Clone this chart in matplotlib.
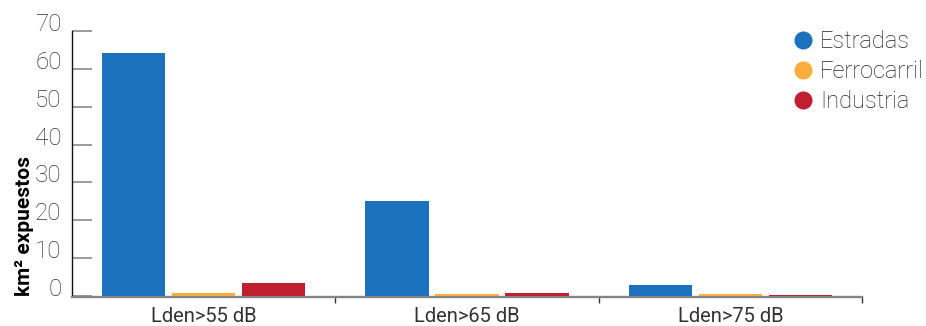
import matplotlib
matplotlib.use("Agg")
import matplotlib.pyplot as plt
from matplotlib.lines import Line2D
import numpy as np

categories = ["Lden>55 dB", "Lden>65 dB", "Lden>75 dB"]
series_names = ["Estradas", "Ferrocarril", "Industria"]
estradas = [64.1, 25.1, 3.0]
ferrocarril = [0.9, 0.4, 0.4]
industria = [3.4, 0.9, 0.35]
yticks = [0, 10, 20, 30, 40, 50, 60, 70]
colors = ["#1c72bd", "#f9ae3c", "#c01f30"]

plt.rcParams['font.family'] = ['Roboto', 'DejaVu Sans']

fig = plt.figure(figsize=(9.26, 3.26), dpi=100)
W, H = 926, 326
ax = fig.add_axes([72 / W, 30 / H, (862 - 72) / W, (296 - 31) / H])

x = np.arange(len(categories))
width = 0.24
offset = 0.266
for i, (vals, c) in enumerate(zip([estradas, ferrocarril, industria], colors)):
    ax.bar(x + (i - 1) * offset, vals, width=width, color=c, zorder=3)

ax.set_xlim(-0.5, 2.5)
ax.set_ylim(0, 70)
ax.set_yticks(yticks)
ax.set_yticklabels([str(t) for t in yticks])
for lab in ax.get_yticklabels():
    lab.set_verticalalignment('baseline')
    lab.set_fontweight('light')
ax.tick_params(axis='y', direction='in', length=14.4, width=1.2, color='#8a8a8a',
               pad=7.5, labelsize=17.5, labelcolor='#333333')

ax.set_xticks(x)
ax.set_xticklabels(categories)
ax.set_xticks([0.5, 1.5, 2.5], minor=True)
ax.tick_params(axis='x', which='major', length=0, pad=7, labelsize=14.5, labelcolor='#333333')
ax.tick_params(axis='x', which='minor', direction='out', length=4, width=1, color='#333333')
for lab in ax.get_xticklabels():
    lab.set_fontweight('light')

for s in ['top', 'right']:
    ax.spines[s].set_visible(False)
ax.spines['left'].set_color('#111111')
ax.spines['left'].set_linewidth(1.0)
ax.spines['bottom'].set_color('#858585')
ax.spines['bottom'].set_linewidth(1.7)
ax.spines['bottom'].set_position(('outward', 0.8))

fig.text(25 / W, 1 - 226 / H, "km² expuestos", rotation=90, ha='center', va='center',
         fontsize=15, fontweight='bold', color='black')

handles = [Line2D([0], [0], marker='o', linestyle='none', markersize=12,
                  markerfacecolor=c, markeredgecolor=c) for c in colors]
leg = ax.legend(handles, series_names, loc='upper left', bbox_to_anchor=(782 / W, 1 - 18 / H),
                bbox_transform=fig.transFigure, frameon=False, fontsize=17,
                handlelength=0.8, handletextpad=0.3, labelspacing=0.3, borderpad=0)
for t in leg.get_texts():
    t.set_color('#222222')
    t.set_fontweight('light')

fig.savefig("out.png", dpi=100)
